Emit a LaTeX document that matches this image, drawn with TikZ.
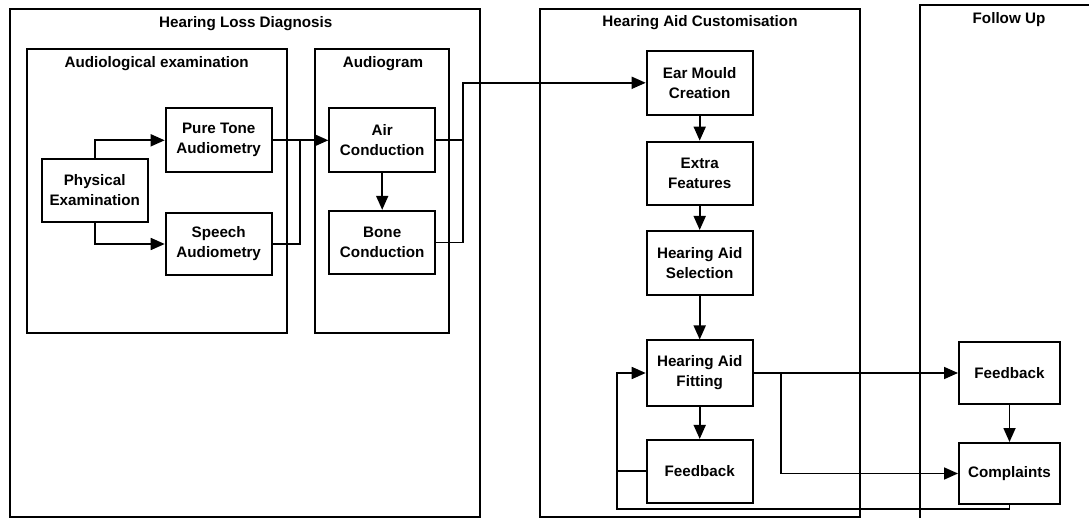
\documentclass[tikz,border=0pt]{standalone}
\usepackage{fontspec}
\setmainfont{Liberation Sans}
\usetikzlibrary{arrows.meta,calc}
\begin{document}
\begin{tikzpicture}[x=1pt,y=-1pt,
  every node/.style={font=\fontsize{15.2pt}{20pt}\selectfont\bfseries},
  stepbox/.style={draw,line width=2pt,inner sep=0pt,align=center,minimum width=106pt,minimum height=63pt},
  smallbox/.style={stepbox,minimum width=101pt,minimum height=61pt},
  group/.style={draw,line width=1.7pt},
  title/.style={inner sep=0pt,anchor=center},
  conn/.style={line width=1.7pt},
  arr/.style={conn,-{Triangle[length=14pt,width=12pt]}}]
\useasboundingbox (0,0) rectangle (1089,518);
\clip (0,0) rectangle (1089,518);
% containers
\draw[group] (10,9) rectangle (480,517);
\draw[group] (26.7,49) rectangle (286.7,332.7);
\draw[group] (315,49) rectangle (449.3,332.7);
\draw[group] (540,9) rectangle (860,517);
\draw[group] (920,5) rectangle (1110,540);
% titles
\node[title] (tHLD) at (245.8,24) {Hearing Loss Diagnosis};
\node[title] (tAE) at (156.7,64) {Audiological examination};
\node[title] (tAG) at (383,64) {Audiogram};
\node[title] (tHAC) at (700,23) {Hearing Aid Customisation};
\node[title] (tFU) at (1009,19.3) {Follow Up};
% boxes
\node[stepbox,minimum height=62.4pt] (PE) at (94.7,190.5) {Physical\\Examination};
\node[stepbox,minimum height=64pt] (PT) at (218.7,140.3) {Pure Tone\\Audiometry};
\node[stepbox,minimum height=62.6pt] (SA) at (218.7,244) {Speech\\Audiometry};
\node[stepbox,minimum width=105.7pt,minimum height=64pt] (AC) at (382.2,140.3) {Air\\Conduction};
\node[stepbox,minimum width=105.7pt,minimum height=63.3pt] (BC) at (382.2,242.5) {Bone\\Conduction};
\node[stepbox,minimum height=64.3pt] (EMC) at (699.7,82.8) {Ear Mould\\Creation};
\node[stepbox,minimum height=63.3pt] (EF) at (699.7,173.3) {Extra\\Features};
\node[stepbox,minimum height=64pt] (HAS) at (699.7,263) {Hearing Aid\\Selection};
\node[stepbox,minimum height=65pt] (HAF) at (699.7,373) {Hearing Aid\\Fitting};
\node[stepbox,minimum height=62.7pt] (FB1) at (699.7,471.3) {Feedback};
\node[smallbox] (FB2) at (1009.5,373) {Feedback};
\node[smallbox] (CP) at (1009.5,473.5) {Complaints};
% junction coordinates
\coordinate (J1) at (300,140.3);
\coordinate (R) at (463,0);
\coordinate (B) at (781,0);
\coordinate (L) at (617,0);
\coordinate (Lb) at (617,509);
% connectors
\draw[arr] (PE.north) |- (PT.west);
\draw[arr] (PE.south) |- (SA.west);
\draw[arr] (PT.east) -- (AC.west);
\draw[conn] (SA.east) -| (J1);
\draw[arr] (AC.south) -- (BC.north);
\draw[conn] (AC.east) -- (AC.east -| R);
\draw[arr] (BC.east) -- (BC.east -| R) |- (EMC.west);
\draw[arr] (EMC.south) -- (EF.north);
\draw[arr] (EF.south) -- (HAS.north);
\draw[arr] (HAS.south) -- (HAF.north);
\draw[arr] (HAF.south) -- (FB1.north);
\draw[arr] (HAF.east) -- (FB2.west);
\draw[arr] (HAF.east -| B) |- (CP.west);
\draw[arr] (FB2.south) -- (CP.north);
\draw[arr] (FB1.west) -- (FB1.west -| L) |- (HAF.west);
\draw[conn] (CP.south) |- (Lb) -- (FB1.west -| Lb);
\end{tikzpicture}
\end{document}
